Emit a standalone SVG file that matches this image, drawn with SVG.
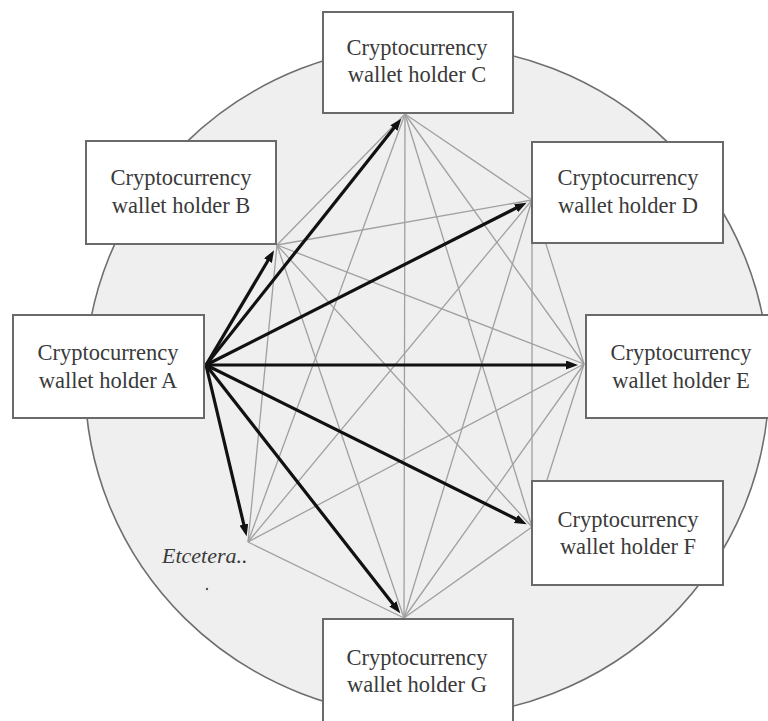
<svg xmlns="http://www.w3.org/2000/svg" width="768" height="721" viewBox="0 0 768 721">
<defs>
<style>
.bg{fill:#efefef;stroke:#6e6e6e;stroke-width:1.6}
.thin{stroke:#a0a0a0;stroke-width:1.3;fill:none}
.thick{stroke:#111;stroke-width:3.2;fill:none;marker-end:url(#ah)}
.box{fill:#fff;stroke:#6a6a6a;stroke-width:2}
.lbl{font-family:"Liberation Serif","Times New Roman",serif;font-size:22.5px;fill:#3a3a3a;text-anchor:middle}
.etc{font-family:"Liberation Serif","Times New Roman",serif;font-size:22px;font-style:italic;fill:#3a3a3a}
</style>
<marker id="ah" markerUnits="userSpaceOnUse" markerWidth="14" markerHeight="10" refX="3" refY="4.5" orient="auto">
<path d="M0,0 L12,4.5 L0,9 z" fill="#111"/>
</marker>
</defs>
<rect x="0" y="0" width="768" height="721" fill="#fff"/>
<ellipse class="bg" cx="427" cy="381" rx="342" ry="336"/>
<g id="connectors">
<g id="mesh">
<line class="thin" x1="277" y1="245" x2="405" y2="114"/>
<line class="thin" x1="277" y1="245" x2="532" y2="200"/>
<line class="thin" x1="277" y1="245" x2="584" y2="364"/>
<line class="thin" x1="277" y1="245" x2="532" y2="527"/>
<line class="thin" x1="277" y1="245" x2="404" y2="618"/>
<line class="thin" x1="277" y1="245" x2="248" y2="542"/>
<line class="thin" x1="405" y1="114" x2="532" y2="200"/>
<line class="thin" x1="405" y1="114" x2="584" y2="364"/>
<line class="thin" x1="405" y1="114" x2="532" y2="527"/>
<line class="thin" x1="405" y1="114" x2="404" y2="618"/>
<line class="thin" x1="405" y1="114" x2="248" y2="542"/>
<line class="thin" x1="532" y1="200" x2="584" y2="364"/>
<line class="thin" x1="532" y1="200" x2="532" y2="527"/>
<line class="thin" x1="532" y1="200" x2="404" y2="618"/>
<line class="thin" x1="532" y1="200" x2="248" y2="542"/>
<line class="thin" x1="584" y1="364" x2="532" y2="527"/>
<line class="thin" x1="584" y1="364" x2="404" y2="618"/>
<line class="thin" x1="584" y1="364" x2="248" y2="542"/>
<line class="thin" x1="532" y1="527" x2="404" y2="618"/>
<line class="thin" x1="404" y1="618" x2="248" y2="542"/>
</g>
<g id="arrows">
<line class="thick" x1="206" y1="365" x2="269.5" y2="258"/>
<line class="thick" x1="206" y1="365" x2="395.7" y2="125.8"/>
<line class="thick" x1="206" y1="365" x2="518.6" y2="206.8"/>
<line class="thick" x1="206" y1="365" x2="569" y2="365"/>
<line class="thick" x1="206" y1="365" x2="518.6" y2="520.2"/>
<line class="thick" x1="206" y1="365" x2="394.7" y2="606.2"/>
<line class="thick" x1="206" y1="365" x2="244.5" y2="527.5"/>
</g>
</g>
<g id="nodeA"><rect class="box" x="13" y="315" width="191" height="103"/>
<text class="lbl" x="108" y="360">Cryptocurrency</text><text class="lbl" x="108" y="388">wallet holder A</text></g>
<g id="nodeB"><rect class="box" x="86" y="141" width="190" height="103"/>
<text class="lbl" x="181" y="185">Cryptocurrency</text><text class="lbl" x="181" y="213">wallet holder B</text></g>
<g id="nodeC"><rect class="box" x="323" y="12" width="190" height="101"/>
<text class="lbl" x="417" y="55">Cryptocurrency</text><text class="lbl" x="417" y="82">wallet holder C</text></g>
<g id="nodeD"><rect class="box" x="532" y="142" width="191" height="101"/>
<text class="lbl" x="628" y="185">Cryptocurrency</text><text class="lbl" x="628" y="213">wallet holder D</text></g>
<g id="nodeE"><rect class="box" x="586" y="315" width="190" height="103"/>
<text class="lbl" x="681" y="360">Cryptocurrency</text><text class="lbl" x="681" y="388">wallet holder E</text></g>
<g id="nodeF"><rect class="box" x="532" y="481" width="191" height="104"/>
<text class="lbl" x="628" y="527">Cryptocurrency</text><text class="lbl" x="628" y="554">wallet holder F</text></g>
<g id="nodeG"><rect class="box" x="323" y="619" width="190" height="110"/>
<text class="lbl" x="417" y="665">Cryptocurrency</text><text class="lbl" x="417" y="692">wallet holder G</text></g>
<g id="nodeEtc"><text class="etc" x="162" y="563">Etcetera..</text></g>
<circle cx="207" cy="589" r="1.2" fill="#555"/>
</svg>
